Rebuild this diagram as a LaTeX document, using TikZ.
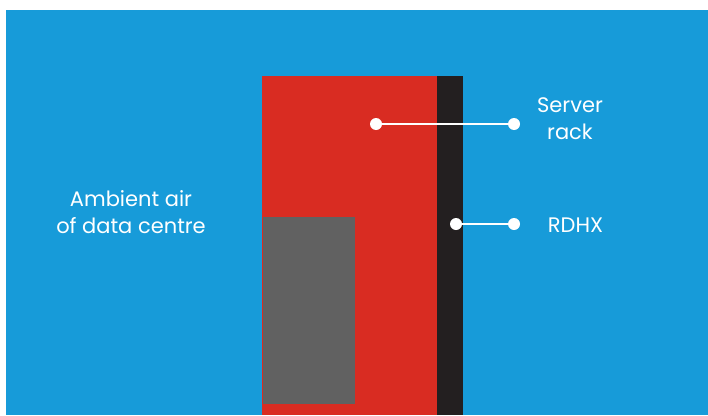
\documentclass[tikz,border=0pt]{standalone}
\usepackage{fontspec}
\setmainfont{Poppins}
\usetikzlibrary{positioning}
\definecolor{cAir}{HTML}{179BD9}
\definecolor{cRack}{HTML}{D92C22}
\definecolor{cRdhx}{HTML}{231F20}
\definecolor{cServer}{HTML}{616161}

\begin{document}
\begin{tikzpicture}[
    x=1pt, y=-1pt,
    font=\fontsize{21}{27}\selectfont,
    block/.style={
        rectangle, draw=none, anchor=north west, inner sep=0pt
    },
    rackbox/.style={block, fill=cRack, minimum width=175pt, minimum height=339pt},
    rdhxbox/.style={block, fill=cRdhx, minimum width=26pt, minimum height=339pt},
    serverbox/.style={block, fill=cServer, minimum width=92pt, minimum height=187pt},
    lbl/.style={text=white, align=center, inner sep=0pt},
    leader/.style={draw=white, line width=2pt},
    dot/.style={fill=white},
]

% =====================================================
% Frame and background
% =====================================================

\useasboundingbox (0,0) rectangle (708,415);
\fill[white] (0,0) rectangle (708,415);
\fill[cAir] (6,10) rectangle (708,415);

% =====================================================
% Rack with door heat exchanger
% =====================================================

\node[rackbox]   (rack)   at (262,76)  {};
\node[rdhxbox]   (rdhx)   at (437,76)  {};
\node[serverbox] (server) at (263,217) {};

% =====================================================
% Labels
% =====================================================

\node[lbl] (ambient) at (131,212.5) {Ambient air\\of data centre};
\node[lbl] (racklbl) at (570,118.5) {Server\\rack};
\node[lbl, anchor=base] (rdhxlbl) at (575.5,232) {RDHX};

% leader anchors
\coordinate (rackpt)  at (376,124);
\coordinate (rackend) at (514,124);
\coordinate (rdhxpt)  at (456,224);
\coordinate (rdhxend) at (514,224);

\draw[leader] (rackpt) -- (rackend);
\draw[leader] (rdhxpt) -- (rdhxend);
\foreach \p in {rackpt, rackend, rdhxpt, rdhxend}
    \fill[dot] (\p) circle (6pt);

\end{tikzpicture}
\end{document}
